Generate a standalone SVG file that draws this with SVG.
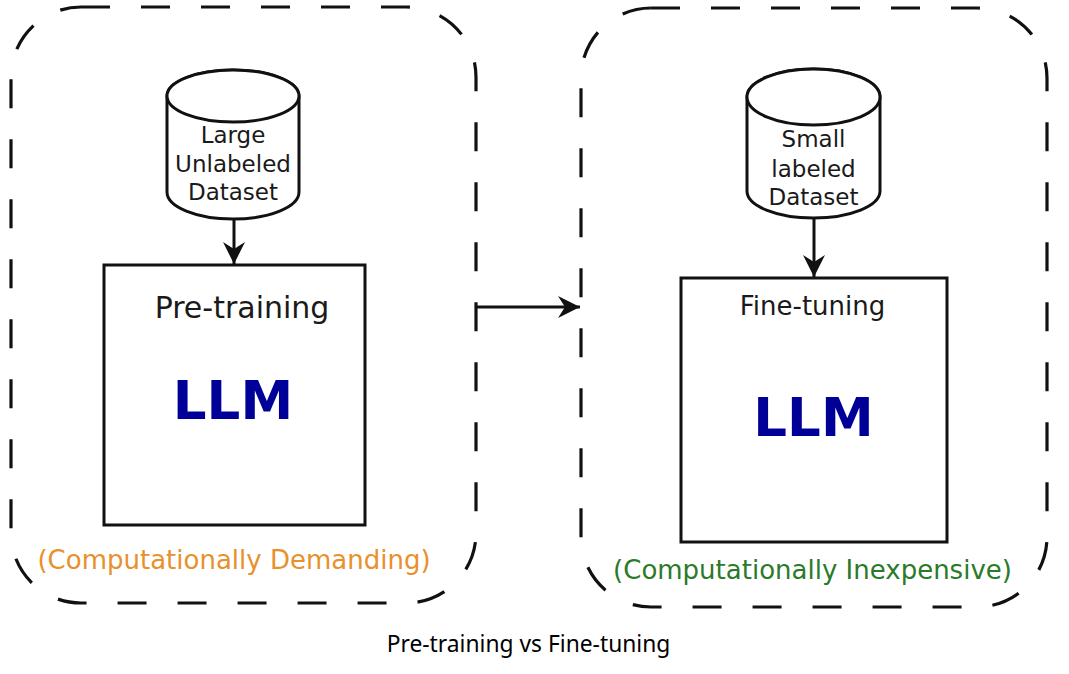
<svg xmlns="http://www.w3.org/2000/svg" width="1069" height="674" viewBox="0 0 1069 674">
  <style>
    .frame { fill: none; stroke: #111; stroke-width: 3.2; stroke-dasharray: 29 31; }
    .shape { fill: #fff; stroke: #111; stroke-width: 3; }
    .line { fill: none; stroke: #111; stroke-width: 3; }
    .ds { font-family: "DejaVu Sans", Verdana, sans-serif; fill: #1a1a1a; text-anchor: middle; }
    .cyl { font-size: 23px; }
    .title { font-size: 30px; }
    .llm { font-family: "DejaVu Sans", Verdana, sans-serif; font-weight: bold; font-size: 53px; fill: #000099; text-anchor: middle; }
    .note { font-size: 26px; }
    .caption { font-family: "Noto Sans", "Open Sans", sans-serif; font-size: 22.8px; fill: #000; text-anchor: middle; }
  </style>
  <defs>
    <marker id="arrow" markerUnits="userSpaceOnUse" markerWidth="24" markerHeight="24" viewBox="-22 -11 24 22" refX="0" refY="0" orient="auto">
      <path d="M -22,-11 L 0,0 L -22,11 L -15,0 Z" fill="#111"/>
    </marker>
  </defs>
  <rect width="1069" height="674" fill="#fff"/>

  <g id="pretraining-frame">
    <rect class="frame" x="11" y="7" width="465" height="596" rx="70" ry="70"/>
  </g>
  <g id="finetuning-frame">
    <rect class="frame" x="581" y="8" width="466" height="599" rx="70" ry="70"/>
  </g>

  <g id="large-dataset">
    <path class="shape" d="M 167,96 L 167,192 A 66,27 0 0 0 299,192 L 299,96 A 66,26 0 0 0 167,96 Z"/>
    <ellipse class="shape" cx="233" cy="96" rx="66" ry="26"/>
    <text class="ds cyl" x="233" y="143">Large</text>
    <text class="ds cyl" x="233" y="172">Unlabeled</text>
    <text class="ds cyl" x="233" y="200">Dataset</text>
  </g>

  <g id="small-dataset">
    <path class="shape" d="M 747,97 L 747,191 A 66.5,27 0 0 0 880,191 L 880,97 A 66.5,28 0 0 0 747,97 Z"/>
    <ellipse class="shape" cx="813.5" cy="97" rx="66.5" ry="28"/>
    <text class="ds cyl" x="813.5" y="147">Small</text>
    <text class="ds cyl" x="813.5" y="177">labeled</text>
    <text class="ds cyl" x="813.5" y="205">Dataset</text>
  </g>

  <g id="pretraining-box">
    <rect class="shape" x="104" y="265" width="261" height="260"/>
    <text class="ds title" x="242" y="318">Pre-training</text>
    <text class="llm" x="233" y="419">LLM</text>
  </g>

  <g id="finetuning-box">
    <rect class="shape" x="681" y="278" width="266" height="264"/>
    <text class="ds" style="font-size:26px" x="812.5" y="315">Fine-tuning</text>
    <text class="llm" x="813.5" y="436">LLM</text>
  </g>

  <g id="labels">
    <text class="ds note" x="234" y="569" style="fill:#e8912c">(Computationally Demanding)</text>
    <text class="ds note" x="812.5" y="579" style="fill:#2a7a2a">(Computationally Inexpensive)</text>
    <text class="caption" x="528.5" y="652">Pre-training vs Fine-tuning</text>
  </g>

  <g id="connectors">
    <line class="line" x1="234" y1="219" x2="234" y2="264" marker-end="url(#arrow)"/>
    <line class="line" x1="814" y1="218" x2="814" y2="277" marker-end="url(#arrow)"/>
    <line class="line" x1="477" y1="307" x2="580" y2="307" marker-end="url(#arrow)"/>
  </g>
</svg>
